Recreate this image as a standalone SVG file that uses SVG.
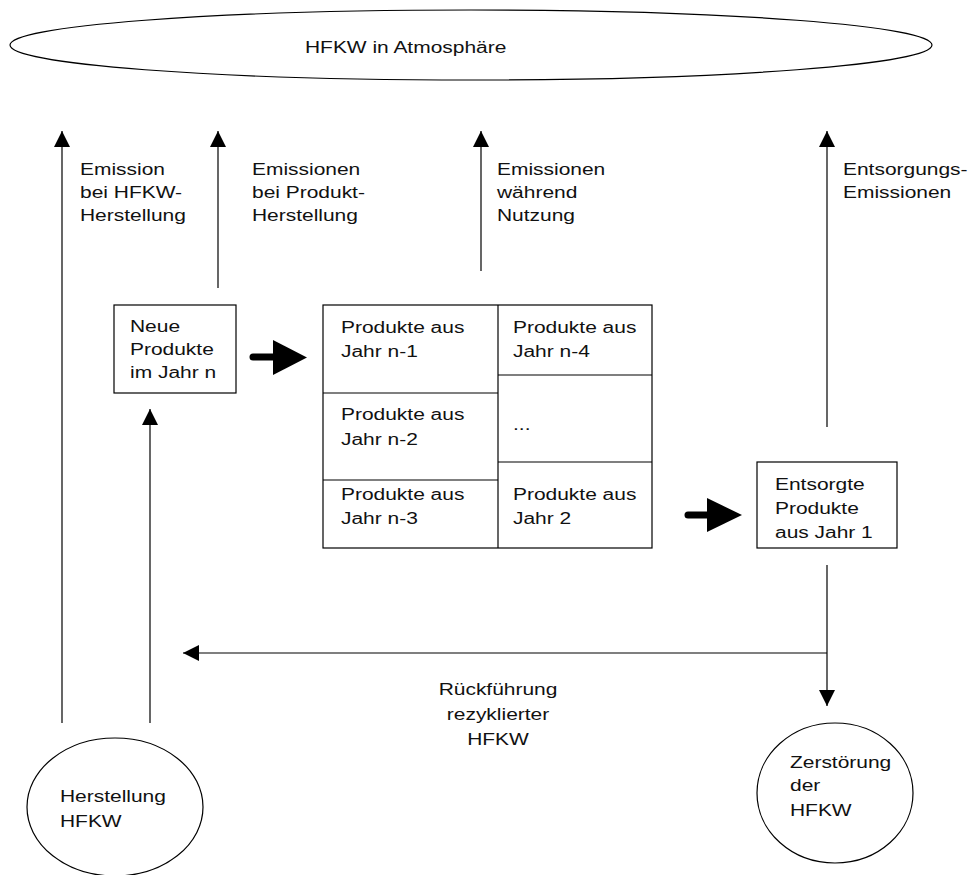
<svg xmlns="http://www.w3.org/2000/svg" width="972" height="875" viewBox="0 0 972 875">
<defs>
<marker id="ah" viewBox="0 0 16 16" refX="16" refY="8" markerWidth="16" markerHeight="16" markerUnits="userSpaceOnUse" orient="auto">
<path d="M0,0 L16,8 L0,16 Z" fill="#000"/>
</marker>
</defs>
<style>
text{font-family:"Liberation Sans",Arial,sans-serif;font-size:16px;fill:#111}
.n{fill:#fff;stroke:#000;stroke-width:1.2}
.c{fill:none;stroke:#000;stroke-width:1.2}
.thick{fill:none;stroke:#000;stroke-width:7;stroke-linecap:round}
.mid{text-anchor:middle}
</style>
<rect width="972" height="875" fill="#fff"/>

<g id="connectors">
<line class="c" x1="62" y1="723" x2="62" y2="131" marker-end="url(#ah)"/>
<line class="c" x1="218" y1="288" x2="218" y2="131" marker-end="url(#ah)"/>
<line class="c" x1="481" y1="271" x2="481" y2="131" marker-end="url(#ah)"/>
<line class="c" x1="827" y1="427" x2="827" y2="131" marker-end="url(#ah)"/>
<line class="c" x1="150" y1="723" x2="150" y2="409" marker-end="url(#ah)"/>
<line class="c" x1="827" y1="565" x2="827" y2="706" marker-end="url(#ah)"/>
<line class="c" x1="827" y1="653" x2="183" y2="653" marker-end="url(#ah)"/>
<line class="thick" x1="253" y1="357" x2="276" y2="357"/>
<path d="M273,340 L307,357.5 L273,375 Z" fill="#000"/>
<line class="thick" x1="688" y1="515" x2="710" y2="515"/>
<path d="M707,498 L742,515 L707,532 Z" fill="#000"/>
</g>

<g id="labels">
<text transform="translate(80,175) scale(1.31,1)">Emission</text>
<text transform="translate(80,198) scale(1.31,1)">bei HFKW-</text>
<text transform="translate(80,221) scale(1.31,1)">Herstellung</text>
<text transform="translate(252,175) scale(1.31,1)">Emissionen</text>
<text transform="translate(252,198) scale(1.31,1)">bei Produkt-</text>
<text transform="translate(252,221) scale(1.31,1)">Herstellung</text>
<text transform="translate(497,175) scale(1.31,1)">Emissionen</text>
<text transform="translate(497,198) scale(1.31,1)">während</text>
<text transform="translate(497,221) scale(1.31,1)">Nutzung</text>
<text transform="translate(843,175) scale(1.31,1)">Entsorgungs-</text>
<text transform="translate(843,198) scale(1.31,1)">Emissionen</text>
<text class="mid" transform="translate(498,695) scale(1.31,1)">Rückführung</text>
<text class="mid" transform="translate(498,720) scale(1.31,1)">rezyklierter</text>
<text class="mid" transform="translate(498,745) scale(1.31,1)">HFKW</text>
</g>

<g id="atmosphere">
<ellipse class="n" cx="471" cy="45" rx="461" ry="35"/>
<text transform="translate(305,53) scale(1.31,1)">HFKW in Atmosphäre</text>
</g>

<g id="neue-produkte">
<rect class="n" x="114" y="305" width="122" height="88"/>
<text transform="translate(130,332) scale(1.31,1)">Neue</text>
<text transform="translate(130,355) scale(1.31,1)">Produkte</text>
<text transform="translate(130,378) scale(1.31,1)">im Jahr n</text>
</g>

<g id="bestand">
<rect class="n" x="323" y="305" width="329" height="243"/>
<line class="c" x1="498" y1="305" x2="498" y2="548"/>
<line class="c" x1="323" y1="393" x2="498" y2="393"/>
<line class="c" x1="323" y1="480" x2="498" y2="480"/>
<line class="c" x1="498" y1="375" x2="652" y2="375"/>
<line class="c" x1="498" y1="462" x2="652" y2="462"/>
</g>
<g id="jahr-n-1">
<text transform="translate(341,333) scale(1.31,1)">Produkte aus</text>
<text transform="translate(341,357) scale(1.31,1)">Jahr n-1</text>
</g>
<g id="jahr-n-2">
<text transform="translate(341,420) scale(1.31,1)">Produkte aus</text>
<text transform="translate(341,445) scale(1.31,1)">Jahr n-2</text>
</g>
<g id="jahr-n-3">
<text transform="translate(341,500) scale(1.31,1)">Produkte aus</text>
<text transform="translate(341,524) scale(1.31,1)">Jahr n-3</text>
</g>
<g id="jahr-n-4">
<text transform="translate(513,333) scale(1.31,1)">Produkte aus</text>
<text transform="translate(513,357) scale(1.31,1)">Jahr n-4</text>
</g>
<g id="dots">
<text transform="translate(513,430) scale(1.31,1)">...</text>
</g>
<g id="jahr-2">
<text transform="translate(513,500) scale(1.31,1)">Produkte aus</text>
<text transform="translate(513,524) scale(1.31,1)">Jahr 2</text>
</g>

<g id="entsorgte">
<rect class="n" x="757" y="462" width="140" height="86"/>
<text transform="translate(775,490) scale(1.31,1)">Entsorgte</text>
<text transform="translate(775,514) scale(1.31,1)">Produkte</text>
<text transform="translate(775,538) scale(1.31,1)">aus Jahr 1</text>
</g>

<g id="herstellung">
<ellipse class="n" cx="115" cy="807" rx="88" ry="69"/>
<text transform="translate(60,802) scale(1.31,1)">Herstellung</text>
<text transform="translate(60,827) scale(1.31,1)">HFKW</text>
</g>

<g id="zerstoerung">
<ellipse class="n" cx="835" cy="793" rx="78" ry="70"/>
<text transform="translate(790,768) scale(1.31,1)">Zerstörung</text>
<text transform="translate(790,791) scale(1.31,1)">der</text>
<text transform="translate(790,816) scale(1.31,1)">HFKW</text>
</g>
</svg>
